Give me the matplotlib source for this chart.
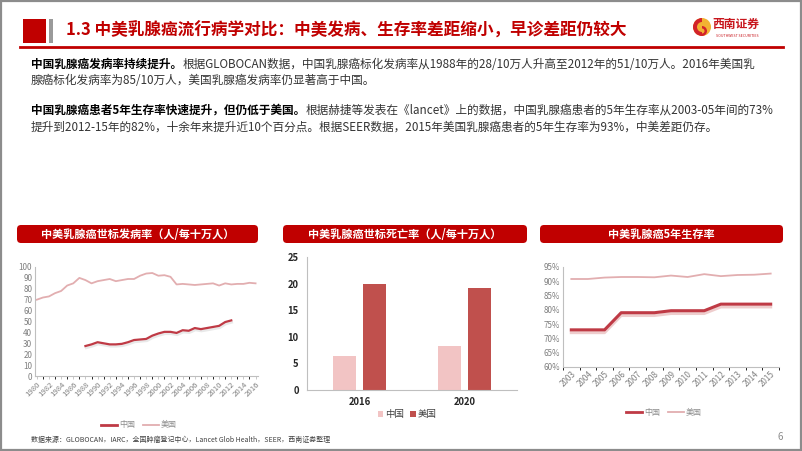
import matplotlib
matplotlib.use("Agg")
import matplotlib.pyplot as plt
import matplotlib.patheffects as pe
from matplotlib.patches import FancyBboxPatch, Rectangle, Circle, Wedge
from matplotlib.lines import Line2D

plt.rcParams['font.family'] = ['Noto Sans CJK SC', 'DejaVu Sans']

# ---- data ----
incYears = list(range(1980, 2017))
incUS = [70, 72, 73, 76, 78, 83, 85, 90, 88, 85, 87, 88, 89, 87, 88, 89, 89, 92, 94, 94.5,
         92, 92.5, 91, 84, 84.5, 84, 83.5, 84, 84.5, 85, 83, 85, 84, 84.5, 84.5, 85.5, 85]
cnYears = list(range(1988, 2013))
incCN = [27.5, 29, 31, 30, 29, 29, 29.5, 31, 33, 33.5, 34, 37, 39, 40.5, 40.5, 39.5,
         42, 41.5, 44, 43, 44, 45, 46, 49.5, 51]

mortYears = ["2016", "2020"]
mortCN = [6.3, 8.2]
mortUS = [20.0, 19.1]

survYears = list(range(2003, 2016))
survCN = [73, 73, 73, 79, 79, 79, 79.7, 79.7, 79.7, 82, 82, 82, 82]
survUS = [90.8, 90.8, 91.3, 91.5, 91.5, 91.4, 92.0, 91.5, 92.5, 91.8, 92.2, 92.3, 92.7]

titleText = "1.3 中美乳腺癌流行病学对比：中美发病、生存率差距缩小，早诊差距仍较大"
para1Bold = "中国乳腺癌发病率持续提升。"
para1Line1 = "根据GLOBOCAN数据，中国乳腺癌标化发病率从1988年的28/10万人升高至2012年的51/10万人。2016年美国乳"
para1Line2 = "腺癌标化发病率为85/10万人，美国乳腺癌发病率仍显著高于中国。"
para2Bold = "中国乳腺癌患者5年生存率快速提升，但仍低于美国。"
para2Line1 = "根据赫捷等发表在《lancet》上的数据，中国乳腺癌患者的5年生存率从2003-05年间的73%"
para2Line2 = "提升到2012-15年的82%，十余年来提升近10个百分点。根据SEER数据，2015年美国乳腺癌患者的5年生存率为93%，中美差距仍存。"
sourceText = "数据来源：GLOBOCAN，IARC，全国肿瘤登记中心，Lancet Glob Health，SEER，西南证券整理"

W, H = 802, 451
RED = "#c00000"
CN_DARK = "#bf3a45"
US_PINK = "#e2aeb0"
BAR_CN = "#f2c4c4"
BAR_US = "#c0504d"

fig = plt.figure(figsize=(W / 100, H / 100), dpi=100)
fig.patch.set_facecolor("white")

# background axes in pixel coordinates
bg = fig.add_axes([0, 0, 1, 1], zorder=0)
bg.set_xlim(0, W)
bg.set_ylim(H, 0)
bg.axis("off")

def axbox(l, t, r, b):
    return [l / W, 1 - b / H, (r - l) / W, (b - t) / H]

# frame
bg.add_patch(Rectangle((0.8, 0.8), W - 1.6, H - 1.6, fill=False, ec="#8c8c8c", lw=1.6))

# header
bg.add_patch(Rectangle((23, 19), 23, 24, color=RED, lw=0))
bg.add_patch(Rectangle((49, 19), 4, 24, color="#9a9a9a", lw=0))
bg.text(66, 31, titleText, color=RED, fontsize=12, fontweight="bold", va="center", ha="left")
bg.plot([20, 783], [46.5, 46.5], color=RED, lw=2)

# logo
bg.add_patch(Circle((702, 27), 9, color="#f2b233", lw=0))
bg.add_patch(Wedge((702, 27), 9, 90, 270, width=4, color="#d2232a", lw=0))
bg.add_patch(Wedge((702, 31), 5, 270, 90, width=2.5, color="#d2232a", lw=0))
bg.text(736, 24, "西南证券", color="#c8161d", fontsize=8.5, fontweight="bold", ha="center", va="center")
bg.text(737, 36, "SOUTHWEST SECURITIES", color="#c8161d", fontsize=2.6, ha="center", va="center")

# paragraphs
fig.canvas.draw()
rend = fig.canvas.get_renderer()

def para(y1, y2, boldPart, rest1, rest2):
    t = bg.text(31, y1, boldPart, fontsize=8.4, fontweight="bold", color="black", va="center", ha="left")
    bb = t.get_window_extent(renderer=rend)
    bg.text(bb.x1, y1, rest1, fontsize=8.4, color="#333333", va="center", ha="left")
    bg.text(31, y2, rest2, fontsize=8.4, color="#333333", va="center", ha="left")

para(64, 80, para1Bold, para1Line1, para1Line2)
para(110, 127, para2Bold, para2Line1, para2Line2)

# chart title boxes
def title_box(l, r, text):
    bg.add_patch(FancyBboxPatch((l, 225), r - l, 18, boxstyle="round,pad=0,rounding_size=4",
                                fc=RED, ec="none"))
    bg.text((l + r) / 2, 234, text, color="white", fontsize=8, fontweight="bold",
            ha="center", va="center")

title_box(17, 258, "中美乳腺癌世标发病率（人/每十万人）")
title_box(283, 527, "中美乳腺癌世标死亡率（人/每十万人）")
title_box(540, 783, "中美乳腺癌5年生存率")

def style_axes(ax, labelcolor="#7f7f7f"):
    for s in ["top", "right"]:
        ax.spines[s].set_visible(False)
    for s in ["left", "bottom"]:
        ax.spines[s].set_color("#bfbfbf")
        ax.spines[s].set_linewidth(0.8)
    ax.tick_params(colors="#bfbfbf", labelcolor=labelcolor, length=2.5, width=0.6)
    ax.set_facecolor("none")

shadow = [pe.SimpleLineShadow(offset=(0.5, -1.5), shadow_color="#c8c8c8", alpha=0.4), pe.Normal()]

# chart 1: incidence
ax1 = fig.add_axes(axbox(35, 267, 258, 376), zorder=2)
style_axes(ax1)
ax1.plot(incYears, incUS, color=US_PINK, lw=1.3)
ax1.plot(cnYears, incCN, color=CN_DARK, lw=1.6, path_effects=shadow)
ax1.set_xlim(1979.7, 2016.4)
ax1.set_ylim(0, 100)
ax1.set_yticks(range(0, 101, 10))
ax1.set_xticks(range(1980, 2017, 2))
ax1.set_xticks(range(1980, 2017, 1), minor=True)
ax1.tick_params(axis="x", which="both", direction="out", length=2.5)
ax1.tick_params(axis="y", length=0, labelsize=5.8, pad=2)
ax1.tick_params(axis="x", labelsize=5.6, pad=1)
for lab in ax1.get_xticklabels():
    lab.set_rotation(45)
    lab.set_ha("right")
    lab.set_rotation_mode("anchor")

# chart 2: mortality
ax2 = fig.add_axes(axbox(307, 257, 517, 390), zorder=2)
style_axes(ax2, labelcolor="#262626")
xpos = range(len(mortYears))
ax2.bar([x - 0.143 for x in xpos], mortCN, width=0.22, color=BAR_CN, label="中国")
ax2.bar([x + 0.143 for x in xpos], mortUS, width=0.22, color=BAR_US, label="美国")
ax2.set_xlim(-0.5, 1.5)
ax2.set_ylim(0, 25)
ax2.set_yticks(range(0, 26, 5))
ax2.set_xticks(list(xpos))
ax2.set_xticklabels(mortYears)
ax2.tick_params(axis="x", length=0, labelsize=6.8, pad=5)
ax2.tick_params(axis="y", length=0, labelsize=6.8, pad=6)
for lab in ax2.get_xticklabels() + ax2.get_yticklabels():
    lab.set_fontweight("bold")
ax2.legend(loc="center", bbox_to_anchor=(407 / W, 1 - 415 / H), bbox_transform=fig.transFigure,
           ncol=2, frameon=False, fontsize=6.8, handlelength=0.6, handleheight=0.6,
           handletextpad=0.2, columnspacing=0.6, labelcolor="#404040")

# chart 3: survival
ax3 = fig.add_axes(axbox(563, 267, 779, 367), zorder=2)
style_axes(ax3)
ax3.plot(survYears, survUS, color=US_PINK, lw=1.3, label="美国")
ax3.plot(survYears, survCN, color=CN_DARK, lw=2.2, label="中国",
         path_effects=[pe.SimpleLineShadow(offset=(0, -2), shadow_color="#e8b8b8", alpha=0.7), pe.Normal()])
ax3.set_xlim(2002.5, 2015.5)
ax3.set_ylim(60, 95)
ax3.set_yticks(range(60, 96, 5))
ax3.set_yticklabels([f"{v}%" for v in range(60, 96, 5)])
ax3.set_xticks(survYears)
ax3.set_xticks([y + 0.5 for y in range(2002, 2016)], minor=True)
ax3.tick_params(axis="x", which="major", length=0, labelsize=5.8, pad=2)
ax3.tick_params(axis="x", which="minor", length=2.5, direction="out")
ax3.tick_params(axis="y", length=0, labelsize=5.8, pad=2)
for lab in ax3.get_xticklabels():
    lab.set_rotation(45)
    lab.set_ha("right")
    lab.set_rotation_mode("anchor")

# line legends
def line_legend(ax, xc, yc):
    handles = [Line2D([], [], color=CN_DARK, lw=2), Line2D([], [], color=US_PINK, lw=1.3)]
    ax.legend(handles, ["中国", "美国"], loc="center", bbox_to_anchor=(xc / W, 1 - yc / H),
              bbox_transform=fig.transFigure, ncol=2, frameon=False, fontsize=5.8,
              handlelength=2.0, handletextpad=0.2, columnspacing=1.0, labelcolor="#8c8c8c")

line_legend(ax1, 139, 425)
line_legend(ax3, 664, 412)

# footer
bg.text(31, 440, sourceText, fontsize=5.0, style="italic", color="#404040", va="center", ha="left")
bg.text(780, 437, "6", fontsize=7, color="#8c8c8c", va="center", ha="center")

fig.savefig("out.png", dpi=100)
